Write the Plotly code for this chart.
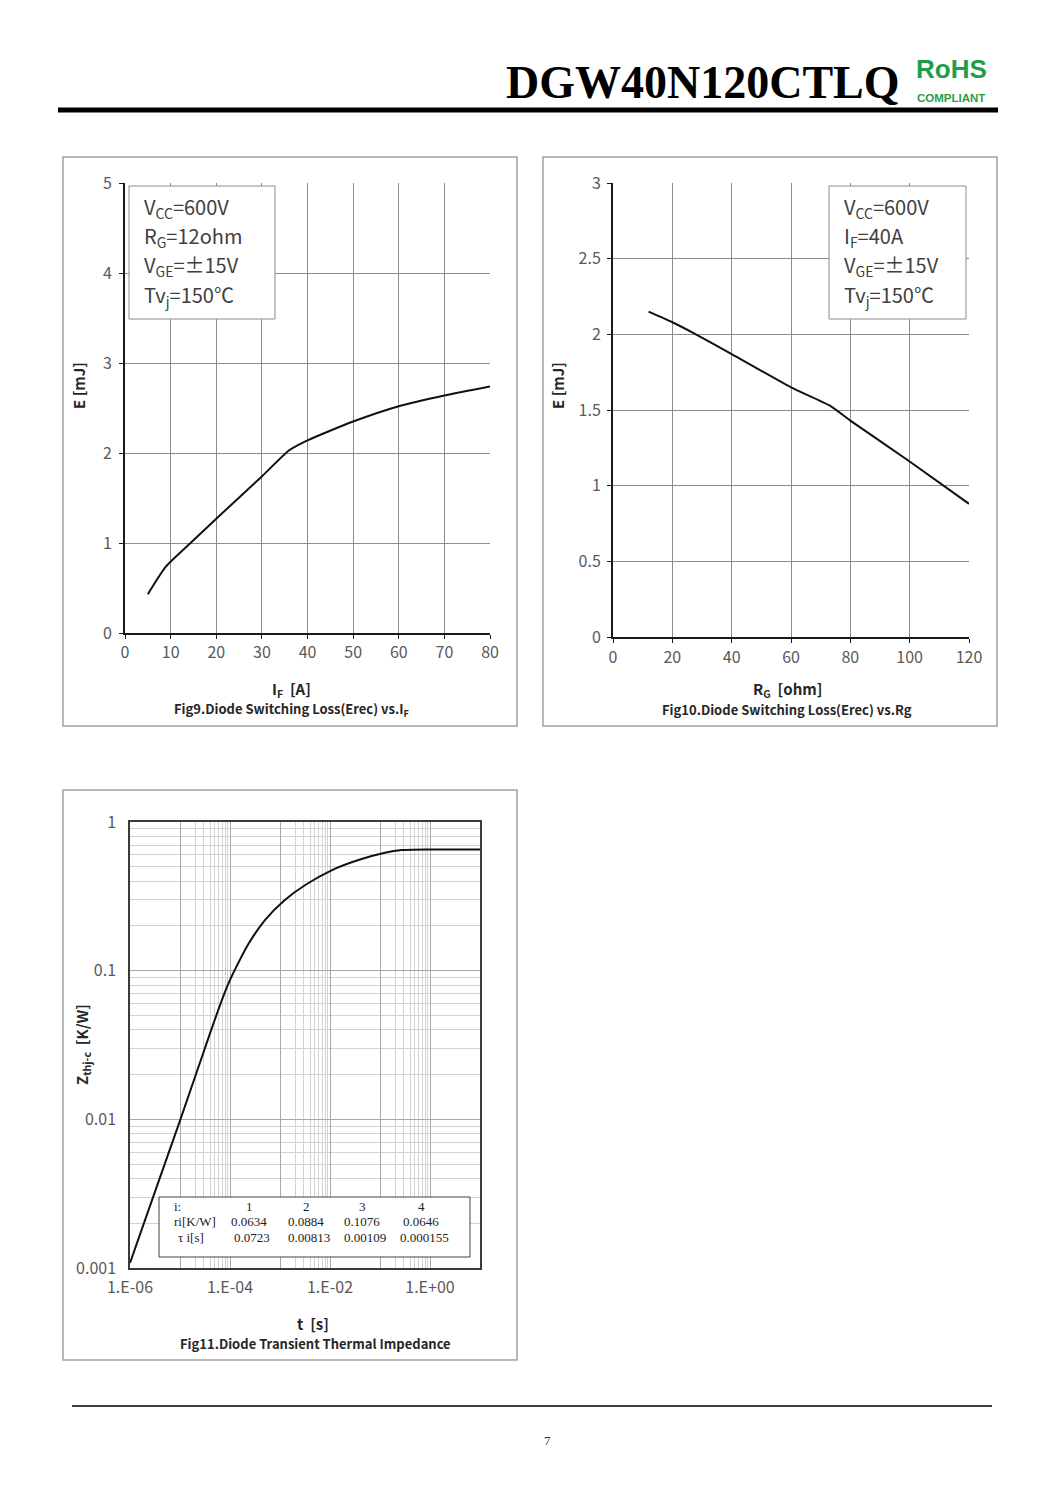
import plotly.graph_objects as go

# the page body adds an 8px margin around the plot, so the figure is sized to fit
OFF = 8
W, H = 1060 - 2 * OFF, 1498 - 2 * OFF

# ---------------- data ----------------
# Fig9: Erec vs IF
IF_A = [5, 9, 15, 20, 30, 36, 40, 50, 60, 70, 80]
EREC_IF_MJ = [0.43, 0.74, 1.03, 1.27, 1.74, 2.03, 2.14, 2.35, 2.52, 2.64, 2.74]
FIG9_XTICKS = [0, 10, 20, 30, 40, 50, 60, 70, 80]
FIG9_YTICKS = [0, 1, 2, 3, 4, 5]

# Fig10: Erec vs RG
RG_OHM = [12, 20, 27, 40, 60, 73, 80, 100, 120]
EREC_RG_MJ = [2.15, 2.08, 2.01, 1.87, 1.65, 1.53, 1.43, 1.16, 0.88]
FIG10_XTICKS = [0, 20, 40, 60, 80, 100, 120]
FIG10_YTICKS = [0, 0.5, 1, 1.5, 2, 2.5, 3]
FIG10_YTEXT = ["0", "0.5", "1", "1.5", "2", "2.5", "3"]

# Fig11: transient thermal impedance
T_S = [1e-6, 3e-6, 1e-5, 4e-5, 6e-5, 9e-5, 1.3e-4, 2.3e-4, 5e-4, 1.25e-3, 3.2e-3,
       1.1e-2, 3.7e-2, 0.125, 0.27, 1.0, 10.0]
ZTH_KW = [0.00108, 0.0031, 0.0098, 0.038, 0.056, 0.080, 0.104, 0.150, 0.219, 0.299, 0.377,
          0.475, 0.555, 0.621, 0.647, 0.653, 0.653]
FIG11_XTICKS = [1e-6, 1e-5, 1e-4, 1e-3, 1e-2, 1e-1, 1e0, 1e1]
FIG11_XTEXT = ["1.E-06", "", "1.E-04", "", "1.E-02", "", "1.E+00", ""]
FIG11_YTICKS = [0.001, 0.01, 0.1, 1]
FIG11_YTEXT = ["0.001", "0.01", "0.1", "1"]

TABLE_I = ["1", "2", "3", "4"]
TABLE_RI = ["0.0634", "0.0884", "0.1076", "0.0646"]
TABLE_TAU = ["0.0723", "0.00813", "0.00109", "0.000155"]

FIG9_COND = ["V<sub>CC</sub>=600V", "R<sub>G</sub>=12ohm", "V<sub>GE</sub>=±15V", "Tv<sub>j</sub>=150℃"]
FIG10_COND = ["V<sub>CC</sub>=600V", "I<sub>F</sub>=40A", "V<sub>GE</sub>=±15V", "Tv<sub>j</sub>=150℃"]


def PX(x):
    return (x - OFF) / W


def PY(y):
    return 1 - (y - OFF) / H


TICKFONT = dict(family="Noto Sans CJK SC", size=16, color="#595959")
LABELFONT = dict(family="Noto Sans CJK SC", size=15, color="#262626")
CAPFONT = dict(family="Noto Sans CJK SC", size=13, color="#262626")
CURVE = dict(color="#111111", width=2)

fig = go.Figure()

fig.add_trace(go.Scatter(x=IF_A, y=EREC_IF_MJ, mode="lines", line=dict(shape="spline", smoothing=0.6, **CURVE),
                         xaxis="x", yaxis="y", showlegend=False))
fig.add_trace(go.Scatter(x=RG_OHM, y=EREC_RG_MJ, mode="lines", line=dict(shape="spline", smoothing=0.5, **CURVE),
                         xaxis="x2", yaxis="y2", showlegend=False))
fig.add_trace(go.Scatter(x=T_S, y=ZTH_KW, mode="lines", line=dict(shape="spline", smoothing=0.6, **CURVE),
                         xaxis="x3", yaxis="y3", showlegend=False))

lin_common = dict(showgrid=True, gridcolor="#8c8c8c", gridwidth=1, zeroline=False,
                  showline=True, linecolor="#1a1a1a", linewidth=2, ticks="outside",
                  ticklen=4, tickcolor="#1a1a1a", tickfont=TICKFONT, fixedrange=True,
                  automargin=False)

minor_x = [k * 10 ** d for d in (-5, -3, -1) for k in range(2, 10)]
minor_y = [k * 10 ** d for d in (-3, -2, -1) for k in range(2, 10)]

fig.update_layout(
    width=W, height=H, margin=dict(l=0, r=0, t=0, b=0, pad=0, autoexpand=False),
    paper_bgcolor="white", plot_bgcolor="white", showlegend=False,
    xaxis=dict(domain=[PX(125), PX(490)], range=[0, 80], tickvals=FIG9_XTICKS, anchor="y",
               ticklabelstandoff=0, **lin_common),
    yaxis=dict(domain=[PY(633), PY(183)], range=[0, 5], tickvals=FIG9_YTICKS, anchor="x",
               ticklabelstandoff=4, **lin_common),
    xaxis2=dict(domain=[PX(613), PX(969)], range=[0, 120], tickvals=FIG10_XTICKS, anchor="y2",
                ticklabelstandoff=1, **lin_common),
    yaxis2=dict(domain=[PY(637), PY(183)], range=[0, 3], tickvals=FIG10_YTICKS, ticktext=FIG10_YTEXT,
                anchor="x2", ticklabelstandoff=3, **lin_common),
    xaxis3=dict(domain=[PX(130), PX(480)], type="log", range=[-6, 1], tickvals=FIG11_XTICKS,
                ticktext=FIG11_XTEXT, anchor="y3", showgrid=True, gridcolor="#a8a8a8", gridwidth=1,
                showline=True, mirror=True, linecolor="#3a3a3a", linewidth=1.5, ticks="",
                tickfont=TICKFONT, ticklabelstandoff=4, zeroline=False, fixedrange=True, automargin=False,
                minor=dict(tickmode="array", tickvals=minor_x, showgrid=True, gridcolor="#d2d2d2",
                           gridwidth=1, ticks="")),
    yaxis3=dict(domain=[PY(1268), PY(822)], type="log", range=[-3, 0], tickvals=FIG11_YTICKS,
                ticktext=FIG11_YTEXT, anchor="x3", showgrid=True, gridcolor="#a8a8a8", gridwidth=1,
                showline=True, mirror=True, linecolor="#3a3a3a", linewidth=1.5, ticks="",
                tickfont=TICKFONT, ticklabelstandoff=9, zeroline=False, fixedrange=True, automargin=False,
                minor=dict(tickmode="array", tickvals=minor_y, showgrid=True, gridcolor="#d2d2d2",
                           gridwidth=1, ticks="")),
)

shapes = []
# panel frames
for (x0, y0, x1, y1) in [(63, 157, 517, 726), (543, 157, 997, 726), (63, 790, 517, 1360)]:
    shapes.append(dict(type="rect", xref="paper", yref="paper", x0=PX(x0), x1=PX(x1), y0=PY(y1), y1=PY(y0),
                       line=dict(color="#a0a0a0", width=1.5), fillcolor="rgba(0,0,0,0)", layer="below"))
# header rule
shapes.append(dict(type="line", xref="paper", yref="paper", x0=PX(58), x1=PX(998), y0=PY(110), y1=PY(110),
                   line=dict(color="black", width=5)))
# footer rule
shapes.append(dict(type="line", xref="paper", yref="paper", x0=PX(72), x1=PX(992), y0=PY(1406), y1=PY(1406),
                   line=dict(color="black", width=1.5)))
# condition boxes
for (x0, y0, x1, y1) in [(129, 186, 275, 319), (829, 186, 966, 319)]:
    shapes.append(dict(type="rect", xref="paper", yref="paper", x0=PX(x0), x1=PX(x1), y0=PY(y1), y1=PY(y0),
                       line=dict(color="#8c8c8c", width=1), fillcolor="white", layer="above"))
# table box
shapes.append(dict(type="rect", xref="paper", yref="paper", x0=PX(159), x1=PX(470), y0=PY(1257), y1=PY(1197),
                   line=dict(color="#404040", width=1), fillcolor="white", layer="above"))

ann = []


def A(text, x, y, font, xanchor="center", yanchor="middle", textangle=0):
    ann.append(dict(text=text, x=PX(x), y=PY(y), xref="paper", yref="paper", showarrow=False,
                    xanchor=xanchor, yanchor=yanchor, font=font, textangle=textangle))


# header
A("<b>DGW40N120CTLQ</b>", 902, 83, dict(family="Liberation Serif", size=46, color="black"), xanchor="right")
A("<b>RoHS</b>", 951, 69, dict(family="Liberation Sans", size=26, color="#1f9e48"))
A("<b>COMPLIANT</b>", 951, 98, dict(family="Liberation Sans", size=11.5, color="#1f9e48"))
A("7", 547, 1440, dict(family="Liberation Serif", size=13, color="#333333"))

# condition texts
condfont = dict(family="Noto Sans CJK SC", size=20, color="#404040")
for i, t in enumerate(FIG9_COND):
    A(t, 142, 208 + 29 * i, condfont, xanchor="left")
for i, t in enumerate(FIG10_COND):
    A(t, 842, 208 + 29 * i, condfont, xanchor="left")

# axis titles and captions
A("<b>E [mJ]</b>", 78, 386, LABELFONT, textangle=-90)
A("<b>I<sub>F</sub>  [A]</b>", 291, 689, LABELFONT)
A("<b>Fig9.Diode Switching Loss(Erec) vs.I<sub>F</sub></b>", 291, 709, CAPFONT)

A("<b>E [mJ]</b>", 557, 386, LABELFONT, textangle=-90)
A("<b>R<sub>G</sub>  [ohm]</b>", 787, 689, LABELFONT)
A("<b>Fig10.Diode Switching Loss(Erec) vs.Rg</b>", 787, 709, CAPFONT)

A("<b>Z<sub>thj-c</sub>  [K/W]</b>", 82, 1045, LABELFONT, textangle=-90)
A("<b>t  [s]</b>", 313, 1323, LABELFONT)
A("<b>Fig11.Diode Transient Thermal Impedance</b>", 315, 1343, CAPFONT)

# table
tfont = dict(family="Liberation Serif", size=13, color="#222222")
cols = [249, 306, 362, 421]
A("i:", 172, 1206, tfont, xanchor="left")
A("ri[K/W]", 172, 1221, tfont, xanchor="left")
A("τ i[s]", 176, 1237, tfont, xanchor="left")
for c, a, b, d in zip(cols, TABLE_I, TABLE_RI, TABLE_TAU):
    A(a, c, 1206, tfont)
    A(b, c, 1221, tfont)
    A(d, c + 3, 1237, tfont)

fig.update_layout(shapes=shapes, annotations=ann)
fig.write_html("out.html")
